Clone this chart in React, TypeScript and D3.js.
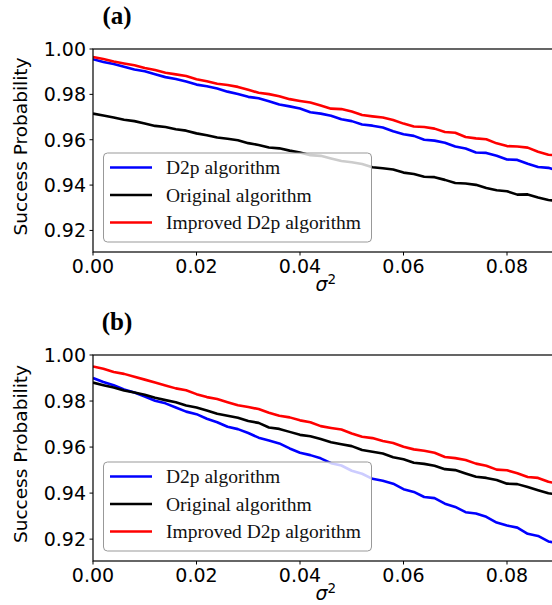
import React from 'react';
import * as d3 from 'd3';

// sigma^2 grid (x values)
const sigma2 = [
  0, 0.002, 0.004, 0.006, 0.008, 0.01, 0.012, 0.014, 0.016, 0.018,
  0.02, 0.022, 0.024, 0.026, 0.028, 0.03, 0.032, 0.034, 0.036, 0.038,
  0.04, 0.042, 0.044, 0.046, 0.048, 0.05, 0.052, 0.054, 0.056, 0.058,
  0.06, 0.062, 0.064, 0.066, 0.068, 0.07, 0.072, 0.074, 0.076, 0.078,
  0.08, 0.082, 0.084, 0.086, 0.088, 0.09,
];

// panel (a)
const aD2p = [
  0.9955, 0.9943, 0.9934, 0.9922, 0.991, 0.9902, 0.9889, 0.9876, 0.9868, 0.9857,
  0.9843, 0.9836, 0.9826, 0.9812, 0.9802, 0.9789, 0.9783, 0.977, 0.9755, 0.9747,
  0.9738, 0.9721, 0.9715, 0.9706, 0.969, 0.9682, 0.9667, 0.9662, 0.9654, 0.9637,
  0.9624, 0.9617, 0.96, 0.9596, 0.9587, 0.957, 0.9561, 0.9544, 0.9542, 0.9529,
  0.9513, 0.9511, 0.9494, 0.948, 0.9476, 0.9462,
];
const aOriginal = [
  0.9715, 0.9707, 0.9698, 0.9688, 0.9682, 0.9672, 0.9661, 0.9656, 0.9646, 0.964,
  0.9628, 0.962, 0.961, 0.9604, 0.9598, 0.9585, 0.9577, 0.9566, 0.9562, 0.9552,
  0.9544, 0.9532, 0.9529, 0.9517, 0.9506, 0.9501, 0.9493, 0.9479, 0.9474, 0.9469,
  0.9455, 0.9449, 0.9437, 0.9435, 0.9423, 0.9409, 0.9407, 0.9401, 0.9387, 0.9377,
  0.9373, 0.9358, 0.9359, 0.9345, 0.9334, 0.933,
];
const aImproved = [
  0.9965, 0.9956, 0.9945, 0.9936, 0.9928, 0.9916, 0.9907, 0.9895, 0.9888, 0.9881,
  0.9867, 0.9858, 0.9847, 0.9841, 0.9833, 0.982, 0.9807, 0.9801, 0.9792, 0.9779,
  0.9771, 0.9764, 0.9751, 0.9737, 0.9735, 0.9724, 0.9709, 0.9703, 0.9698, 0.9687,
  0.9671, 0.9658, 0.9656, 0.9649, 0.9634, 0.9631, 0.9612, 0.9606, 0.9602, 0.9584,
  0.9572, 0.957, 0.9565, 0.9547, 0.9534, 0.953,
];

// panel (b)
const bD2p = [
  0.99, 0.9883, 0.9869, 0.985, 0.9837, 0.982, 0.9801, 0.979, 0.9772, 0.9754,
  0.9743, 0.9723, 0.9708, 0.9688, 0.9678, 0.9661, 0.9641, 0.9628, 0.9616, 0.9594,
  0.9575, 0.9565, 0.9551, 0.953, 0.952, 0.9497, 0.9484, 0.9462, 0.9454, 0.9441,
  0.9417, 0.9405, 0.9383, 0.9378, 0.9354, 0.934, 0.9317, 0.9311, 0.9297, 0.9272,
  0.9259, 0.925, 0.9223, 0.9214, 0.919, 0.9181,
];
const bOriginal = [
  0.988, 0.9869, 0.9859, 0.9846, 0.9837, 0.9827, 0.9814, 0.9804, 0.9795, 0.9781,
  0.9772, 0.9759, 0.9745, 0.9736, 0.9727, 0.9713, 0.9705, 0.9685, 0.9679, 0.9666,
  0.9653, 0.9647, 0.9635, 0.9621, 0.9612, 0.9604, 0.9587, 0.958, 0.9572, 0.9556,
  0.9547, 0.9532, 0.9527, 0.9519, 0.9504, 0.95, 0.9485, 0.9471, 0.9466, 0.9457,
  0.9441, 0.9439, 0.9426, 0.9412, 0.9399, 0.9394,
];
const bImproved = [
  0.995, 0.994, 0.9926, 0.9918, 0.9905, 0.9893, 0.988, 0.9868, 0.9855, 0.9847,
  0.983, 0.9817, 0.9809, 0.9795, 0.9782, 0.9774, 0.9765, 0.9749, 0.9736, 0.9729,
  0.9716, 0.9708, 0.9691, 0.9683, 0.9676, 0.9659, 0.9645, 0.9639, 0.9626, 0.9618,
  0.9601, 0.959, 0.9584, 0.9575, 0.9557, 0.9552, 0.9544, 0.9528, 0.9519, 0.9502,
  0.9499, 0.9486, 0.947, 0.9466, 0.9449, 0.944,
];

const xTicks = [0, 0.02, 0.04, 0.06, 0.08];
const yTicks = [0.92, 0.94, 0.96, 0.98, 1.0];
const legendNames = ['D2p algorithm', 'Original algorithm', 'Improved D2p algorithm'];
const lineColors = ['#0000ff', '#000000', '#ff0000'];

const W = 552;
const H = 605;
const plotLeft = 93;
const plotRight = 558.75;
const sans = 'DejaVu Sans, sans-serif';
const serif = 'Liberation Serif, Times New Roman, serif';

function Panel({ id, label, top, bottom, series }) {
  const x = d3.scaleLinear().domain([0, 0.09]).range([plotLeft, plotRight]);
  const y = d3.scaleLinear().domain([0.9105, 1.0]).range([bottom, top]);
  const line = d3
    .line<number>()
    .x((d, i) => x(sigma2[i]))
    .y((d) => y(d));

  const lgTop = bottom - 99;
  const rows = [14.5, 42, 69.5];

  return (
    <g>
      <defs>
        <clipPath id={`clip-${id}`}>
          <rect x={plotLeft} y={top} width={plotRight - plotLeft} height={bottom - top} />
        </clipPath>
      </defs>
      <text x={117} y={top - 25} textAnchor="middle" fontFamily={serif} fontWeight="bold" fontSize={25}>
        {label}
      </text>

      <g clipPath={`url(#clip-${id})`}>
        {series.map((s, i) => (
          <path key={i} d={line(s)} fill="none" stroke={lineColors[i]} strokeWidth={2.6} strokeLinejoin="round" />
        ))}
      </g>

      {/* spines */}
      <rect x={plotLeft} y={top} width={plotRight - plotLeft} height={bottom - top} fill="none" stroke="#000" strokeWidth={1.2} />

      {/* y axis */}
      {yTicks.map((t) => (
        <g key={t}>
          <line x1={plotLeft - 3.5} x2={plotLeft} y1={y(t)} y2={y(t)} stroke="#000" strokeWidth={1} />
          <text x={plotLeft - 7} y={y(t)} dy="0.36em" textAnchor="end" fontFamily={sans} fontSize={19} fill="#000">
            {t.toFixed(2)}
          </text>
        </g>
      ))}
      <text
        transform={`translate(27,${(top + bottom) / 2 - 4}) rotate(-90)`}
        textAnchor="middle"
        fontFamily={sans}
        fontSize={18.5}
        fill="#000"
      >
        Success Probability
      </text>

      {/* x axis */}
      {xTicks.map((t) => (
        <g key={t}>
          <line x1={x(t)} x2={x(t)} y1={bottom} y2={bottom + 3.5} stroke="#000" strokeWidth={1} />
          <text x={x(t)} y={bottom + 21} textAnchor="middle" fontFamily={sans} fontSize={19} fill="#000">
            {t.toFixed(2)}
          </text>
        </g>
      ))}
      <text x={(plotLeft + plotRight) / 2} y={bottom + 38.5} textAnchor="middle" fontFamily={sans} fontSize={19} fill="#000">
        <tspan fontStyle="italic">σ</tspan>
        <tspan fontSize={13.5} dy={-7}>2</tspan>
      </text>

      {/* legend */}
      <rect x={103.5} y={lgTop} width={268} height={89} rx={4} fill="#fff" fillOpacity={0.8} stroke="#999" strokeWidth={1} />
      {legendNames.map((n, i) => (
        <g key={n}>
          <line x1={110} x2={152} y1={lgTop + rows[i]} y2={lgTop + rows[i]} stroke={lineColors[i]} strokeWidth={2.6} />
          <text x={166} y={lgTop + rows[i]} dy="0.35em" fontFamily={serif} fontSize={19.5} fill="#111">
            {n}
          </text>
        </g>
      ))}
    </g>
  );
}

export default function App() {
  return (
    <svg
      width={W}
      height={H}
      style={{ position: 'absolute', left: 0, top: 0, background: '#fff' }}
    >
      <Panel id="a" label="(a)" top={49} bottom={252} series={[aD2p, aOriginal, aImproved]} />
      <Panel id="b" label="(b)" top={355} bottom={561} series={[bD2p, bOriginal, bImproved]} />
    </svg>
  );
}
